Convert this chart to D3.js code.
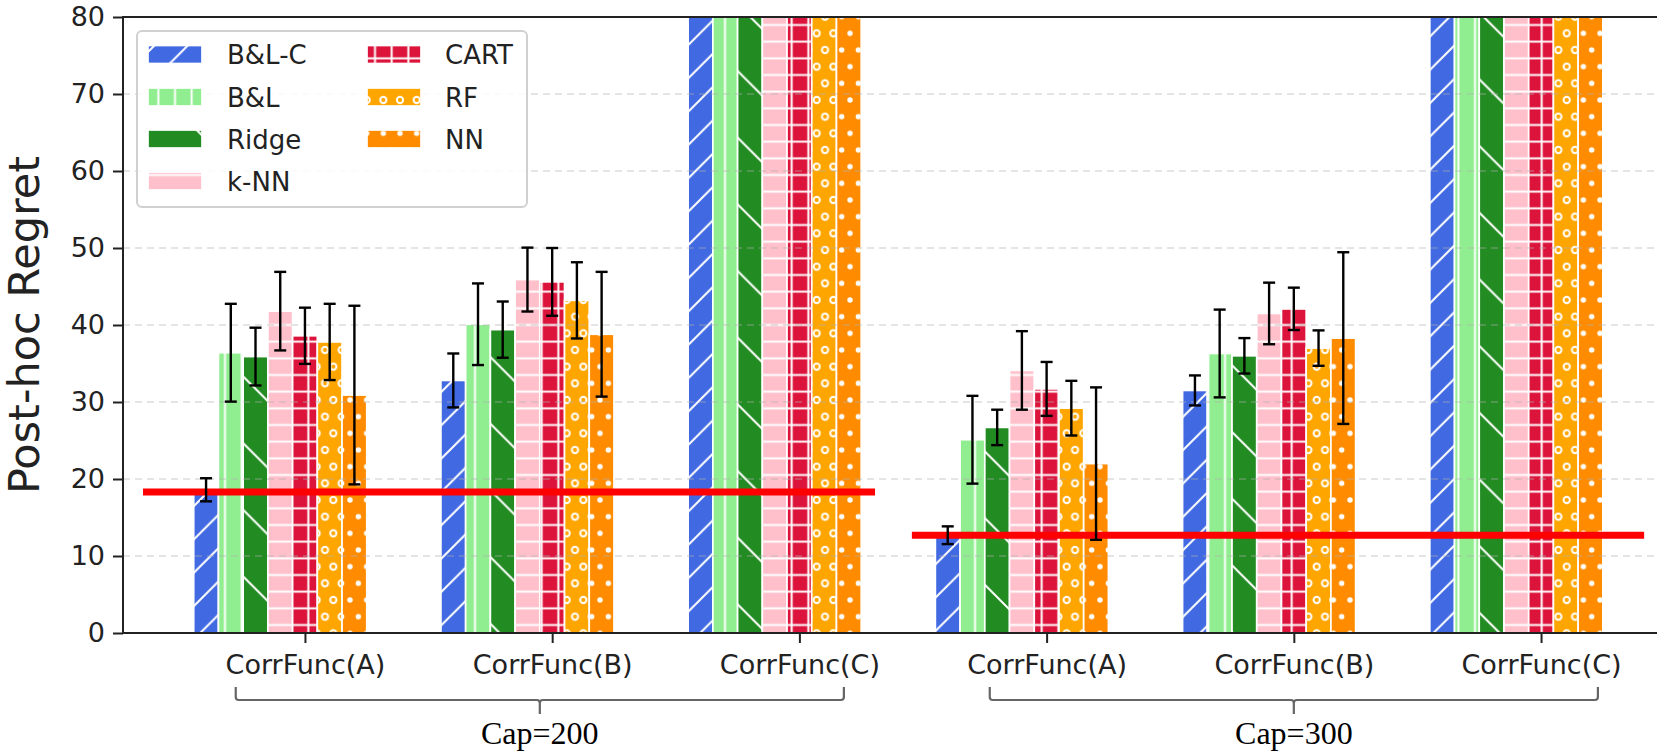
<!DOCTYPE html>
<html>
<head>
<meta charset="utf-8">
<script src="https://cdn.jsdelivr.net/npm/d3@7"></script>
<style>
  html, body { margin: 0; padding: 0; background: #fff; }
  svg { display: block; }
</style>
</head>
<body>
<svg id="chart" width="1657" height="753"></svg>
<script>
// ---------------- DATA ----------------
const groupLabels = ["CorrFunc(A)", "CorrFunc(B)", "CorrFunc(C)", "CorrFunc(A)", "CorrFunc(B)", "CorrFunc(C)"];
const methods = ["B&L-C", "B&L", "Ridge", "k-NN", "CART", "RF", "NN"];
const methodColors = ["#4169E1", "#90EE90", "#228B22", "#FFC0CB", "#DC143C", "#FFA500", "#FF8C00"];
const methodHatches = ["slash", "vbar", "backslash", "hbar", "plus", "circle", "dot"];

// values per method across the 6 groups (CorrFunc(C) bars run off the top of the axis)
const valBLC   = [18.6, 32.8, 120, 12.7, 31.5, 120];
const valBL    = [36.4, 40.1, 120, 25.1, 36.3, 120];
const valRidge = [35.9, 39.4, 120, 26.7, 36.0, 120];
const valKNN   = [41.8, 45.9, 120, 34.1, 41.5, 120];
const valCART  = [38.6, 45.6, 120, 31.7, 42.1, 120];
const valRF    = [37.8, 43.2, 120, 29.2, 37.0, 120];
const valNN    = [30.9, 38.8, 120, 22.0, 38.3, 120];

const errBLC   = [1.5, 3.5, 5, 1.15, 1.95, 5];
const errBL    = [6.35, 5.3, 5, 5.7, 5.7, 5];
const errRidge = [3.75, 3.65, 5, 2.3, 2.3, 5];
const errKNN   = [5.1, 4.15, 5, 5.1, 4.0, 5];
const errCART  = [3.65, 4.4, 5, 3.5, 2.75, 5];
const errRF    = [4.95, 4.95, 5, 3.55, 2.3, 5];
const errNN    = [11.6, 8.1, 5, 9.9, 11.15, 5];

const allValues = [valBLC, valBL, valRidge, valKNN, valCART, valRF, valNN];
const allErrors = [errBLC, errBL, errRidge, errKNN, errCART, errRF, errNN];

const yTicks = [0, 10, 20, 30, 40, 50, 60, 70, 80];
const yLabel = "Post-hoc Regret";

// horizontal reference lines (value, x-start, x-end in group units)
const refValues = [18.3, 12.7];
const refSpans = [[-0.655, 2.306], [2.455, 5.417]];

// group brackets below axis
const capLabels = ["Cap=200", "Cap=300"];
const capSpans = [[-0.28, 2.18], [2.77, 5.23]];

// ---------------- LAYOUT ----------------
const svg = d3.select("#chart");
const plotLeft = 123, plotTop = 17, plotBottom = 633, plotRightFull = 1723;
const x = d3.scaleLinear().domain([-0.736, 5.736]).range([plotLeft, plotRightFull]);
const y = d3.scaleLinear().domain([0, 80]).range([plotBottom, plotTop]);
const barW = 0.1;
const FONT = "'DejaVu Sans', sans-serif";
const TXT = "#222";

// ---------------- PATTERNS ----------------
const defs = svg.append("defs");
const hw = 2; // hatch line width
function makePattern(id, color, kind) {
  let w, h;
  if (kind === "slash" || kind === "backslash") { w = h = (kind === "slash" ? 33.33 : 66.67); }
  else if (kind === "vbar" || kind === "hbar" || kind === "plus") { w = h = 16.667; }
  else { w = 16.667; h = 33.333; }
  const p = defs.append("pattern").attr("id", id).attr("patternUnits", "userSpaceOnUse")
    .attr("width", w).attr("height", h);
  p.append("rect").attr("width", w).attr("height", h).attr("fill", color);
  const st = (sel) => sel.attr("stroke", "#fff").attr("stroke-width", hw).attr("fill", "none");
  if (kind === "slash") {
    st(p.append("path").attr("d", `M0,${h} L${w},0 M${-w/2},${h/2} L${w/2},${-h/2} M${w/2},${1.5*h} L${1.5*w},${h/2}`));
  } else if (kind === "backslash") {
    st(p.append("path").attr("d", `M0,0 L${w},${h} M${-w/2},${h/2} L${w/2},${1.5*h} M${w/2},${-h/2} L${1.5*w},${h/2}`));
  } else if (kind === "vbar") {
    st(p.append("path").attr("d", `M${w/2},0 L${w/2},${h}`));
  } else if (kind === "hbar") {
    st(p.append("path").attr("d", `M0,${h/2} L${w},${h/2}`));
  } else if (kind === "plus") {
    st(p.append("path").attr("d", `M${w/2},0 L${w/2},${h} M0,${h/2} L${w},${h/2}`));
  } else if (kind === "circle") {
    [[0,0],[w,0],[0,h],[w,h],[w/2,h/2]].forEach(([cx,cy]) => {
      p.append("circle").attr("cx", cx).attr("cy", cy).attr("r", 3.1)
        .attr("fill", "none").attr("stroke", "#fff").attr("stroke-width", 2);
    });
  } else if (kind === "dot") {
    [[0,0],[w,0],[0,h],[w,h],[w/2,h/2]].forEach(([cx,cy]) => {
      p.append("circle").attr("cx", cx).attr("cy", cy).attr("r", 2.7).attr("fill", "#fff");
    });
  }
}
methods.forEach((m, i) => makePattern("pat" + i, methodColors[i], methodHatches[i]));

defs.append("clipPath").attr("id", "plotclip").append("rect")
  .attr("x", plotLeft).attr("y", plotTop).attr("width", 1657 - plotLeft).attr("height", plotBottom - plotTop);

// ---------------- BARS ----------------
const barData = [];
methods.forEach((m, i) => {
  groupLabels.forEach((g, j) => {
    barData.push({ m: i, g: j, v: allValues[i][j], e: allErrors[i][j] });
  });
});
const plot = svg.append("g").attr("clip-path", "url(#plotclip)");
plot.selectAll("rect.bar").data(barData).enter().append("rect")
  .attr("class", "bar")
  .attr("x", d => x(d.g + (d.m - 4) * barW - barW / 2))
  .attr("width", d => x(barW) - x(0))
  .attr("y", d => y(d.v))
  .attr("height", d => y(0) - y(d.v))
  .attr("fill", d => `url(#pat${d.m})`)
  .attr("stroke", "#fff").attr("stroke-width", 1.7);

// grid (drawn over bars, faint)
plot.selectAll("line.grid").data(yTicks.filter(t => t > 0 && t < 80)).enter().append("line")
  .attr("x1", plotLeft).attr("x2", 1657)
  .attr("y1", d => y(d)).attr("y2", d => y(d))
  .attr("stroke", "#b0b0b0").attr("stroke-opacity", 0.45)
  .attr("stroke-width", 1.5).attr("stroke-dasharray", "7,5");

// reference red lines
plot.selectAll("line.ref").data(refValues).enter().append("line")
  .attr("x1", (d, i) => x(refSpans[i][0])).attr("x2", (d, i) => x(refSpans[i][1]))
  .attr("y1", d => y(d)).attr("y2", d => y(d))
  .attr("stroke", "#ff0000").attr("stroke-width", 7);

// error bars
const eg = plot.selectAll("g.err").data(barData).enter().append("g").attr("class", "err");
const cx = d => x(d.g + (d.m - 4) * barW);
eg.append("line").attr("x1", cx).attr("x2", cx)
  .attr("y1", d => y(d.v - d.e)).attr("y2", d => y(d.v + d.e))
  .attr("stroke", "#000").attr("stroke-width", 2.4);
eg.append("line").attr("x1", d => cx(d) - 6).attr("x2", d => cx(d) + 6)
  .attr("y1", d => y(d.v - d.e)).attr("y2", d => y(d.v - d.e))
  .attr("stroke", "#000").attr("stroke-width", 2.4);
eg.append("line").attr("x1", d => cx(d) - 6).attr("x2", d => cx(d) + 6)
  .attr("y1", d => y(d.v + d.e)).attr("y2", d => y(d.v + d.e))
  .attr("stroke", "#000").attr("stroke-width", 2.4);

// ---------------- AXES ----------------
const yAxis = d3.axisLeft(y).tickValues(yTicks).tickSize(10).tickPadding(8);
const yg = svg.append("g").attr("transform", `translate(${plotLeft},0)`).call(yAxis);
yg.select(".domain").remove();
yg.selectAll(".tick line").attr("stroke", TXT).attr("stroke-width", 2);
yg.selectAll(".tick text").attr("font-family", FONT).attr("font-size", 27).attr("fill", TXT);

const xAxis = d3.axisBottom(x).tickValues(d3.range(groupLabels.length))
  .tickFormat((d) => groupLabels[d]).tickSize(10).tickPadding(12);
const xg = svg.append("g").attr("transform", `translate(0,${plotBottom})`).call(xAxis);
xg.select(".domain").remove();
xg.selectAll(".tick line").attr("stroke", TXT).attr("stroke-width", 2);
xg.selectAll(".tick text").attr("font-family", FONT).attr("font-size", 27).attr("fill", TXT);

// spines
svg.append("line").attr("x1", plotLeft).attr("x2", plotLeft).attr("y1", plotTop - 1).attr("y2", plotBottom + 1)
  .attr("stroke", TXT).attr("stroke-width", 2);
svg.append("line").attr("x1", plotLeft - 1).attr("x2", 1657).attr("y1", plotBottom).attr("y2", plotBottom)
  .attr("stroke", TXT).attr("stroke-width", 2);
svg.append("line").attr("x1", plotLeft - 1).attr("x2", 1657).attr("y1", plotTop).attr("y2", plotTop)
  .attr("stroke", TXT).attr("stroke-width", 2);

// y label
svg.append("text")
  .attr("transform", `translate(39,${(plotTop + plotBottom) / 2}) rotate(-90)`)
  .attr("text-anchor", "middle")
  .attr("font-family", FONT).attr("font-size", 43).attr("fill", TXT)
  .text(yLabel);

// ---------------- BRACKETS ----------------
const brTop = 687, brY = 700, brNub = 714;
capLabels.forEach((lab, i) => {
  const x0 = x(capSpans[i][0]), x1 = x(capSpans[i][1]), xm = (x0 + x1) / 2;
  svg.append("path")
    .attr("d", `M${x0},${brTop} L${x0},${brY - 3} Q${x0},${brY} ${x0 + 3},${brY} L${xm - 3},${brY} Q${xm},${brY} ${xm},${brY + 3} L${xm},${brNub} M${xm},${brY + 3} Q${xm},${brY} ${xm + 3},${brY} L${x1 - 3},${brY} Q${x1},${brY} ${x1},${brY - 3} L${x1},${brTop}`)
    .attr("fill", "none").attr("stroke", "#666").attr("stroke-width", 2.2);
  svg.append("text").attr("x", xm).attr("y", 744)
    .attr("text-anchor", "middle")
    .attr("font-family", "'Liberation Serif', 'Times New Roman', serif")
    .attr("font-size", 32).attr("fill", "#000")
    .text(lab);
});

// ---------------- LEGEND ----------------
const lg = svg.append("g");
lg.append("rect").attr("x", 137).attr("y", 31).attr("width", 390).attr("height", 176)
  .attr("rx", 5).attr("ry", 5)
  .attr("fill", "#fff").attr("fill-opacity", 0.85)
  .attr("stroke", "#d0d0d0").attr("stroke-width", 2);
const rowY = [54.5, 97, 139, 181];
methods.forEach((m, i) => {
  const col = i < 4 ? 0 : 1;
  const row = i < 4 ? i : i - 4;
  const px = col === 0 ? 148 : 367;
  const tx = col === 0 ? 227 : 445;
  const cy = rowY[row];
  lg.append("rect").attr("x", px).attr("y", cy - 9).attr("width", 54).attr("height", 18)
    .attr("fill", `url(#pat${i})`).attr("stroke", "#fff").attr("stroke-width", 1.7);
  lg.append("text").attr("x", tx).attr("y", cy + 9.5)
    .attr("font-family", FONT).attr("font-size", 26).attr("fill", TXT)
    .text(m);
});
</script>
</body>
</html>
